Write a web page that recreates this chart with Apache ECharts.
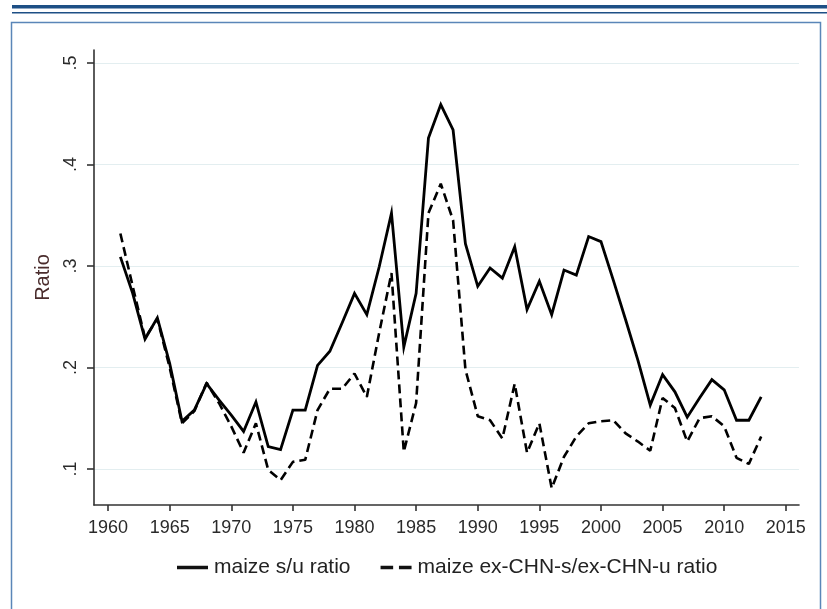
<!DOCTYPE html>
<html>
<head>
<meta charset="utf-8">
<title>maize s/u ratio</title>
<script src="https://cdn.jsdelivr.net/npm/echarts@6.0.0/dist/echarts.min.js"></script>
<style>
  html, body { margin: 0; padding: 0; background: #fff; }
  #main { width: 827px; height: 609px; }
</style>
</head>
<body>
<div id="main"></div>
<script>
// years 1961-2013
var years = [];
for (var y = 1961; y <= 2013; y++) years.push(y);

// maize s/u ratio (solid)
var suRatio = [
  0.309, 0.273, 0.228, 0.249, 0.204, 0.147, 0.158, 0.184, 0.168, 0.153,
  0.137, 0.166, 0.122, 0.119, 0.158, 0.158, 0.202, 0.216, 0.244, 0.273,
  0.252, 0.299, 0.352, 0.220, 0.273, 0.426, 0.459, 0.434, 0.322, 0.280,
  0.298, 0.288, 0.319, 0.257, 0.285, 0.252, 0.296, 0.291, 0.329, 0.324,
  0.286, 0.247, 0.207, 0.163, 0.193, 0.176, 0.151, 0.170, 0.188, 0.178,
  0.148, 0.148, 0.171
];

// maize ex-CHN-s/ex-CHN-u ratio (dashed)
var exChnRatio = [
  0.332, 0.280, 0.229, 0.248, 0.200, 0.145, 0.157, 0.185, 0.165, 0.142,
  0.116, 0.145, 0.099, 0.089, 0.107, 0.109, 0.158, 0.179, 0.179, 0.194,
  0.171, 0.234, 0.293, 0.117, 0.165, 0.352, 0.381, 0.345, 0.198, 0.152,
  0.148, 0.130, 0.184, 0.116, 0.145, 0.081, 0.112, 0.132, 0.145, 0.147,
  0.148, 0.135, 0.127, 0.118, 0.170, 0.160, 0.127, 0.150, 0.152, 0.142,
  0.111, 0.105, 0.132
];

var xTicks = [1960, 1965, 1970, 1975, 1980, 1985, 1990, 1995, 2000, 2005, 2010, 2015];
var yTicks = [0.1, 0.2, 0.3, 0.4, 0.5];

var seriesNames = ['maize s/u ratio', 'maize ex-CHN-s/ex-CHN-u ratio'];

function pairs(vals) {
  return vals.map(function(v, i) { return [years[i], v]; });
}

var font = "'Liberation Sans', Arial, sans-serif";
var myChart = echarts.init(document.getElementById('main'), null, { renderer: 'canvas' });

var option = {
  backgroundColor: '#fff',
  animation: false,
  textStyle: { fontFamily: font },
  graphic: [
    // header bars and frame
    { type: 'rect', shape: { x: 12, y: 5, width: 815, height: 3.5 }, style: { fill: '#1d4f85' } },
    { type: 'rect', shape: { x: 12, y: 12, width: 815, height: 1.5 }, style: { fill: '#1d4f85' } },
    { type: 'rect', shape: { x: 11.5, y: 22.5, width: 809, height: 600 },
      style: { fill: 'none', stroke: '#5a86b8', lineWidth: 1.5 } }
  ],
  grid: { left: 94, right: 28, top: 50, bottom: 104 },
  legend: {
    left: 172,
    top: 552,
    itemWidth: 31,
    itemHeight: 14,
    itemGap: 30,
    textStyle: { fontFamily: font, fontSize: 21, color: '#222', padding: [0, 0, 0, 1] },
    data: [
      { name: seriesNames[0], icon: 'path://M0,6H31V9.5H0Z', itemStyle: { color: '#111' } },
      { name: seriesNames[1], icon: 'path://M0,6H13V9.5H0Z M19,6H32V9.5H19Z', itemStyle: { color: '#111' } }
    ]
  },
  xAxis: {
    type: 'value',
    min: 1958.86,
    max: 2016.07,
    splitLine: { show: false },
    axisLine: { onZero: false, lineStyle: { color: '#333', width: 1.6 } },
    axisTick: { length: 6, lineStyle: { color: '#333', width: 1.6 }, customValues: xTicks },
    axisLabel: {
      customValues: xTicks,
      margin: 14,
      fontSize: 18,
      color: '#2a2a2a',
      fontFamily: font,
      formatter: function(v) { return String(v); }
    }
  },
  yAxis: {
    type: 'value',
    min: 0.0645,
    max: 0.5128,
    name: 'Ratio',
    nameLocation: 'middle',
    nameRotate: 90,
    nameGap: 41,
    nameTextStyle: { fontSize: 20, color: '#4a2c2c', fontFamily: font },
    axisLine: { show: true, onZero: false, lineStyle: { color: '#333', width: 1.6 } },
    axisTick: { show: true, length: 7, lineStyle: { color: '#333', width: 1.6 }, customValues: yTicks },
    axisLabel: {
      customValues: yTicks,
      rotate: 90,
      margin: 14,
      fontSize: 18,
      color: '#2a2a2a',
      fontFamily: font,
      formatter: function(v) { return v.toFixed(1).replace(/^0/, ''); }
    },
    splitLine: { show: true, lineStyle: { color: '#e3eef0', width: 1.2 } }
  },
  series: [
    {
      name: seriesNames[0],
      type: 'line',
      data: pairs(suRatio),
      symbol: 'none',
      lineStyle: { color: '#000', width: 2.8, join: 'miter' },
      itemStyle: { color: '#000' },
      z: 3
    },
    {
      name: seriesNames[1],
      type: 'line',
      data: pairs(exChnRatio),
      symbol: 'none',
      lineStyle: { color: '#000', width: 2.6, type: [9, 5] },
      itemStyle: { color: '#000' },
      z: 2
    }
  ]
};

myChart.setOption(option);
</script>
</body>
</html>
